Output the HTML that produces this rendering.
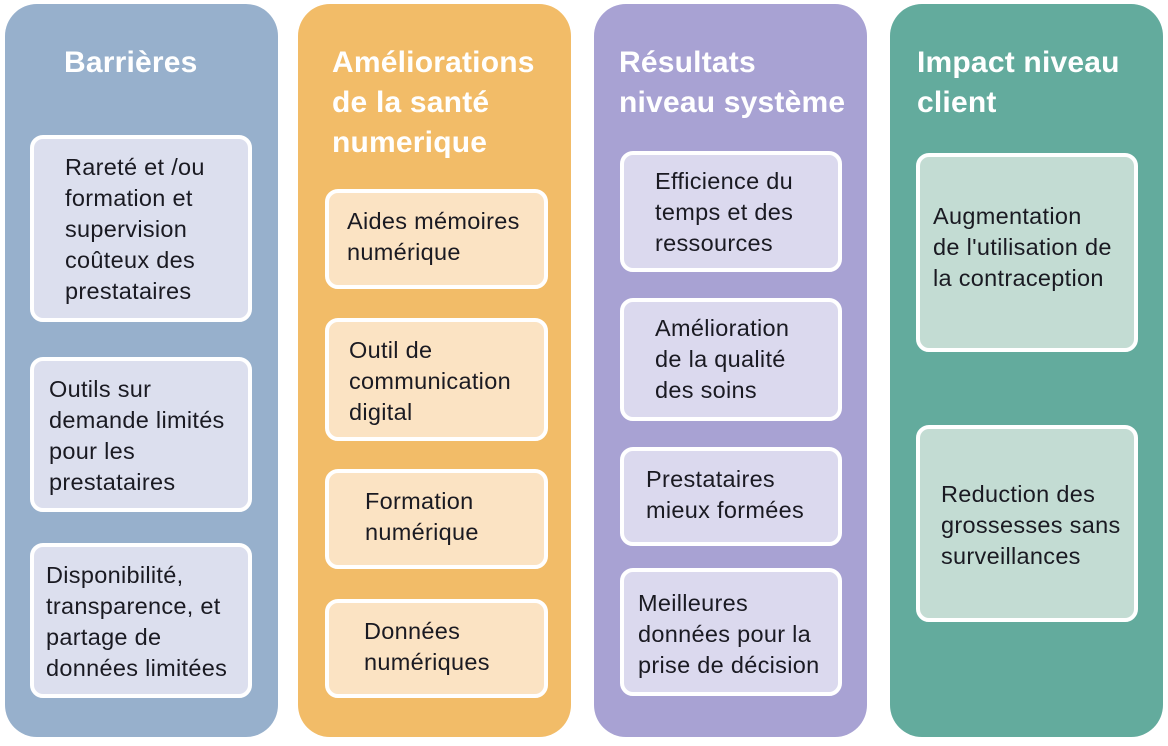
<!DOCTYPE html>
<html><head><meta charset="utf-8"><style>
body{margin:0;width:1168px;height:746px;background:#fff;position:relative;font-family:"Liberation Sans",sans-serif;overflow:hidden}
.col{position:absolute;top:4px;width:273px;height:733px;border-radius:32px}
.h{position:absolute;color:#fff;font-weight:bold;font-size:30px;line-height:40px;white-space:nowrap;letter-spacing:0.2px}
.b{position:absolute;box-sizing:border-box;border:4px solid #fff;border-radius:13px;color:#1a1a22;font-size:23.5px;line-height:31px;white-space:nowrap;letter-spacing:0.3px}
.c1{background:#dcdfee}.c2{background:#fbe3c3}.c3{background:#dbd9ee}.c4{background:#c3dcd3}
</style></head><body>
<div class="col" style="left:5px;background:#97b0cc"></div>
<div class="col" style="left:298px;background:#f2bc68"></div>
<div class="col" style="left:594px;background:#a8a2d3"></div>
<div class="col" style="left:890px;background:#63ab9d"></div>

<div class="h" style="left:64px;top:43px">Barrières</div>
<div class="h" style="left:332px;top:43px">Améliorations<br>de la santé<br>numerique</div>
<div class="h" style="left:619px;top:43px">Résultats<br>niveau système</div>
<div class="h" style="left:917px;top:43px">Impact niveau<br>client</div>

<div class="b c1" style="left:30px;top:135px;width:222px;height:187px;padding:13px 0 0 31px">Rareté et /ou<br>formation et<br>supervision<br>coûteux des<br>prestataires</div>
<div class="b c1" style="left:30px;top:357px;width:222px;height:155px;padding:13px 0 0 15px">Outils sur<br>demande limités<br>pour les<br>prestataires</div>
<div class="b c1" style="left:30px;top:543px;width:222px;height:155px;padding:13px 0 0 12px">Disponibilité,<br>transparence, et<br>partage de<br>données limitées</div>

<div class="b c2" style="left:325px;top:189px;width:223px;height:100px;padding:13px 0 0 18px">Aides mémoires<br>numérique</div>
<div class="b c2" style="left:325px;top:318px;width:223px;height:123px;padding:13px 0 0 20px">Outil de<br>communication<br>digital</div>
<div class="b c2" style="left:325px;top:469px;width:223px;height:100px;padding:13px 0 0 36px">Formation<br>numérique</div>
<div class="b c2" style="left:325px;top:599px;width:223px;height:99px;padding:13px 0 0 35px">Données<br>numériques</div>

<div class="b c3" style="left:620px;top:151px;width:222px;height:121px;padding:11px 0 0 31px">Efficience du<br>temps et des<br>ressources</div>
<div class="b c3" style="left:620px;top:298px;width:222px;height:123px;padding:11px 0 0 31px">Amélioration<br>de la qualité<br>des soins</div>
<div class="b c3" style="left:620px;top:447px;width:222px;height:99px;padding:13px 0 0 22px">Prestataires<br>mieux formées</div>
<div class="b c3" style="left:620px;top:568px;width:222px;height:128px;padding:16px 0 0 14px">Meilleures<br>données pour la<br>prise de décision</div>

<div class="b c4" style="left:916px;top:153px;width:222px;height:199px;padding:44px 0 0 13px">Augmentation<br>de l'utilisation de<br>la contraception</div>
<div class="b c4" style="left:916px;top:425px;width:222px;height:197px;padding:50px 0 0 21px">Reduction des<br>grossesses sans<br>surveillances</div>
</body></html>
